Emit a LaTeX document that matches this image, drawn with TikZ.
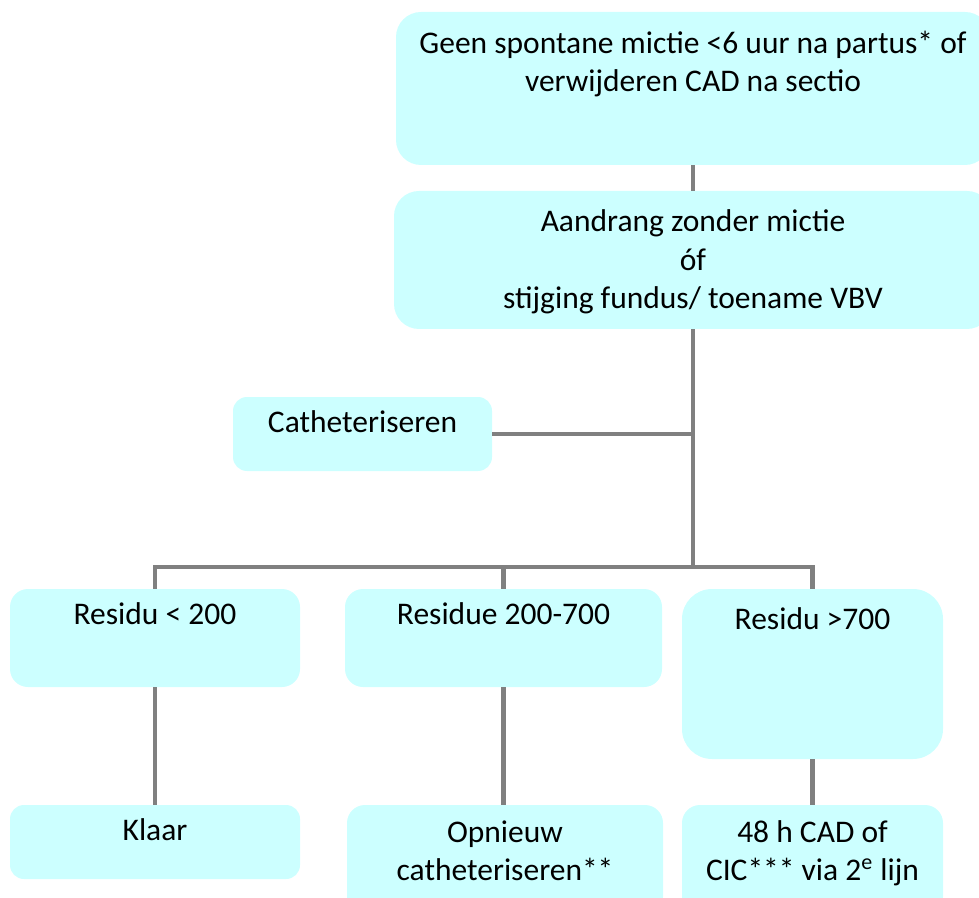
\documentclass[tikz,border=0pt]{standalone}
\usepackage{fontspec}
\setmainfont{Carlito}
\usetikzlibrary{positioning}
\definecolor{boxcyan}{HTML}{CCFFFF}
\definecolor{linegray}{HTML}{808080}

\tikzset{
  box/.style={fill=boxcyan, inner sep=0pt},
  txt/.style={inner sep=0pt, align=center, anchor=base, font=\fontsize{15.75pt}{19.2pt}\selectfont},
  conn/.style={draw=linegray, line width=2.25pt}
}

\begin{document}
\begin{tikzpicture}[x=0.5pt, y=-0.5pt]
    \useasboundingbox (0,0) rectangle (979,898);
    \clip (0,0) rectangle (979,898);
    % boxes
    \node [box, rounded corners=12.5pt, minimum width=297pt, minimum height=76.5pt] (start) at (693,88.5) {};
    \node [box, rounded corners=12.5pt, minimum width=299pt, minimum height=69pt] (urge) at (693,260) {};
    \node [box, rounded corners=7pt, minimum width=129.5pt, minimum height=37pt] (cath) at (362.5,434) {};
    \node [box, rounded corners=9pt, minimum width=145pt, minimum height=49pt] (low) at (155,638) {};
    \node [box, rounded corners=9pt, minimum width=158.5pt, minimum height=49pt] (mid) at (503.5,638) {};
    \node [box, rounded corners=15pt, minimum width=130.5pt, minimum height=85pt] (high) at (812.5,674) {};
    \node [box, rounded corners=7pt, minimum width=145pt, minimum height=37pt] (done) at (155,842) {};
    \node [box, rounded corners=9pt, minimum width=158pt, minimum height=55pt] (again) at (505,860) {};
    \node [box, rounded corners=9pt, minimum width=130.5pt, minimum height=55pt] (cad) at (812.5,860) {};
    % texts (base = last line)
    \node [txt] (start-t) at (693,91.7) {Geen spontane mictie <6 uur na partus* of\\verwijderen CAD na sectio};
    \node [txt] (urge-t) at (693,308.8) {Aandrang zonder mictie\\óf\\stijging fundus/ toename VBV};
    \node [txt] (cath-t) at (362.5,432) {Catheteriseren};
    \node [txt] (low-t) at (155,624) {Residu < 200};
    \node [txt] (mid-t) at (503.5,624) {Residue 200-700};
    \node [txt] (high-t) at (812.5,629) {Residu >700};
    \node [txt] (done-t) at (155,840.7) {Klaar};
    \node [txt] (again-t) at (505,880.4) {Opnieuw\\catheteriseren**};
    \node [txt] (cad-t) at (812.5,880.4) {48 h CAD of\\CIC*** via 2\textsuperscript{e} lijn};
    % connectors
    \coordinate (split) at (693,567);
    \draw [conn] (start.south) -- (urge.north);
    \draw [conn] (urge.south) -- (split);
    \draw [conn] (cath.east) -- (cath.east -| urge.south);
    \draw [conn] (low.north) |- (split) -| (high.north);
    \draw [conn] (mid.north) -- (mid.north |- split);
    \draw [conn] (low.south) -- (done.north);
    \draw [conn] (mid.south) -- (mid.south |- again.north);
    \draw [conn] (high.south) -- (cad.north);
\end{tikzpicture}
\end{document}
